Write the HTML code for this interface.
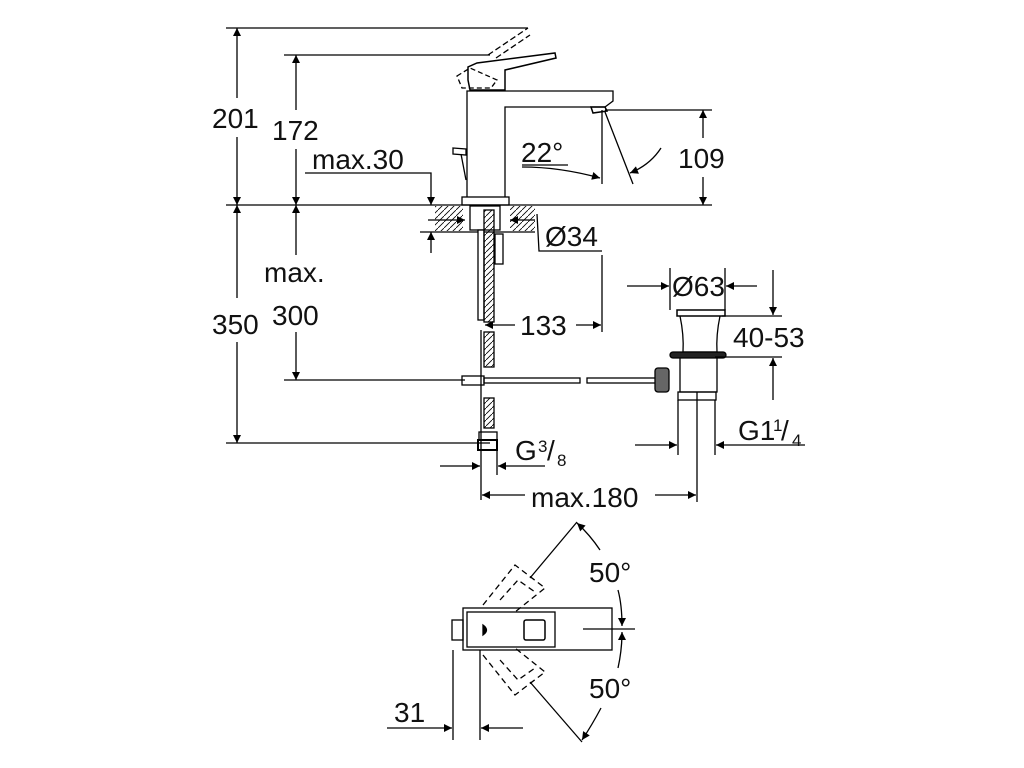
<!DOCTYPE html>
<html><head><meta charset="utf-8"><style>
html,body{margin:0;padding:0;background:#fff;width:1024px;height:768px;overflow:hidden}
svg{display:block}
text{font-family:"Liberation Sans",Arial,sans-serif;font-size:28px;fill:#111}
</style></head><body>
<svg width="1024" height="768" viewBox="0 0 1024 768" xmlns="http://www.w3.org/2000/svg">
<defs>
<marker id="a" viewBox="0 0 10 10" refX="10" refY="5" markerWidth="17" markerHeight="8" markerUnits="userSpaceOnUse" orient="auto-start-reverse"><path d="M0,0L10,5L0,10z" fill="#000"/></marker>
<pattern id="h" width="6" height="6" patternUnits="userSpaceOnUse"><path d="M0,6L6,0" stroke="#000" stroke-width="0.8"/></pattern>
</defs>
<g stroke="#000" stroke-width="1.3" fill="none">
<line x1="226" y1="28" x2="528" y2="28"/>
<line x1="284" y1="55" x2="490" y2="55"/>
<line x1="226" y1="205" x2="712" y2="205"/>
<line x1="226" y1="443" x2="490" y2="443"/>
<line x1="284" y1="380" x2="465" y2="380"/>
<line x1="237" y1="28" x2="237" y2="98" marker-start="url(#a)"/>
<line x1="237" y1="137" x2="237" y2="205" marker-end="url(#a)"/>
<line x1="237" y1="205" x2="237" y2="298" marker-start="url(#a)"/>
<line x1="237" y1="342" x2="237" y2="443" marker-end="url(#a)"/>
<line x1="296" y1="55" x2="296" y2="110" marker-start="url(#a)"/>
<line x1="296" y1="149" x2="296" y2="205" marker-end="url(#a)"/>
<line x1="296" y1="205" x2="296" y2="255" marker-start="url(#a)"/>
<line x1="296" y1="332" x2="296" y2="380" marker-end="url(#a)"/>
<polyline points="305,173 431,173 431,205" marker-end="url(#a)"/>
<line x1="431" y1="253" x2="431" y2="232" marker-end="url(#a)"/>
<line x1="420" y1="232" x2="535" y2="232"/>
<line x1="428" y1="220" x2="465" y2="220" marker-end="url(#a)"/>
<rect x="435" y="206" width="28" height="25" fill="url(#h)" stroke="none"/>
<rect x="510" y="206" width="25" height="25" fill="url(#h)" stroke="none"/>
<line x1="535" y1="220" x2="510" y2="220" marker-end="url(#a)"/>
<polyline points="537,214 539,251 602,251"/>
<path d="M467,197 L467,91 L613,91 L613,101 L605,107 L505,107 Q505,107 505,112 L505,197"/>
<rect x="462" y="197" width="47" height="8"/>
<path d="M591,107 L605,107 L607,111 L593,113 z" stroke-width="1.5"/>
<path d="M453,148 L466,149 L466,155 L453,154 z"/>
<path d="M461,154 L466,180"/>
<path d="M468,80 L468,67 L477,63 L555,53 L556,58 L505,70 L505,90 L470,90 z" stroke-width="1.5"/>
<path d="M457,76 L470,68 L497,80 L491,88 L462,88 z" stroke-dasharray="5,3"/>
<path d="M488,55 L528,28 M496,58 L530,35" stroke-dasharray="6,3"/>
<line x1="605" y1="110" x2="712" y2="110"/>
<line x1="703" y1="110" x2="703" y2="138" marker-start="url(#a)"/>
<line x1="703" y1="177" x2="703" y2="205" marker-end="url(#a)"/>
<line x1="602" y1="110" x2="602" y2="184"/>
<line x1="605" y1="112" x2="633" y2="184"/>
<path d="M522,167 Q560,167 600,178" marker-end="url(#a)"/>
<line x1="522" y1="165" x2="568" y2="165"/>
<path d="M661,148 Q650,165 630,173" marker-end="url(#a)"/>
<rect x="470" y="206" width="30" height="24" fill="#fff"/>
<rect x="478" y="230" width="6" height="90" fill="#fff"/>
<rect x="484" y="210" width="10" height="112" fill="url(#h)"/>
<rect x="495" y="234" width="8" height="30"/>
<rect x="484" y="332" width="10" height="35" fill="url(#h)"/>
<line x1="481" y1="330" x2="481" y2="500"/>
<rect x="484" y="398" width="10" height="30" fill="url(#h)"/>
<rect x="479" y="432" width="18" height="8"/>
<rect x="478" y="440" width="19" height="10" stroke-width="2"/>
<line x1="497" y1="450" x2="497" y2="475"/>
<rect x="462" y="376" width="22" height="9"/>
<rect x="484" y="378" width="96" height="5"/>
<rect x="587" y="378" width="70" height="5"/>
<line x1="602" y1="255" x2="602" y2="332"/>
<line x1="515" y1="325" x2="485" y2="325" marker-end="url(#a)"/>
<line x1="576" y1="325" x2="601" y2="325" marker-end="url(#a)"/>
<rect x="677" y="310" width="48" height="6" stroke-width="1.5"/>
<path d="M680,316 Q684,335 683,352 L717,352 Q716,335 720,316"/>
<rect x="670" y="352" width="56" height="6" rx="3" fill="#222"/>
<path d="M680,358 L680,392 L717,392 L717,358"/>
<rect x="655" y="368" width="14" height="24" rx="3" fill="#666"/>
<rect x="678" y="392" width="38" height="8"/>
<line x1="678" y1="400" x2="678" y2="455"/>
<line x1="715" y1="400" x2="715" y2="455"/>
<line x1="697" y1="392" x2="697" y2="502"/>
<line x1="670" y1="268" x2="670" y2="310"/>
<line x1="725" y1="268" x2="725" y2="310"/>
<line x1="627" y1="286" x2="669" y2="286" marker-end="url(#a)"/>
<line x1="757" y1="286" x2="726" y2="286" marker-end="url(#a)"/>
<line x1="722" y1="316" x2="782" y2="316"/>
<line x1="715" y1="357" x2="782" y2="357"/>
<line x1="773" y1="270" x2="773" y2="315" marker-end="url(#a)"/>
<line x1="773" y1="400" x2="773" y2="358" marker-end="url(#a)"/>
<line x1="635" y1="445" x2="677" y2="445" marker-end="url(#a)"/>
<line x1="805" y1="445" x2="716" y2="445" marker-end="url(#a)"/>
<line x1="440" y1="466" x2="480" y2="466" marker-end="url(#a)"/>
<line x1="545" y1="466" x2="498" y2="466" marker-end="url(#a)"/>
<line x1="525" y1="495" x2="482" y2="495" marker-end="url(#a)"/>
<line x1="655" y1="495" x2="696" y2="495" marker-end="url(#a)"/>
<rect x="463" y="608" width="149" height="42"/>
<rect x="467" y="612" width="88" height="35" fill="#fff"/>
<rect x="452" y="620" width="11" height="20"/>
<rect x="524" y="620" width="21" height="20" rx="2" stroke-width="1.5"/>
<path d="M483,625 Q490,630 483,635 z" fill="#000"/>
<line x1="583" y1="629" x2="635" y2="629"/>
<g stroke-dasharray="6,4">
<path d="M483,605 L515,565 L545,588 L515,612"/>
<path d="M500,600 L518,580 L535,592"/>
<path d="M483,655 L515,695 L545,672 L515,648"/>
<path d="M500,660 L518,680 L535,668"/>
</g>
<line x1="530" y1="578" x2="577" y2="522"/>
<line x1="530" y1="682" x2="582" y2="742"/>
<path d="M600,550 Q590,535 577,523" marker-end="url(#a)"/>
<path d="M618,590 Q622,605 622,626" marker-end="url(#a)"/>
<path d="M618,668 Q622,650 622,632" marker-end="url(#a)"/>
<path d="M601,708 Q592,725 582,740" marker-end="url(#a)"/>
<line x1="453" y1="650" x2="453" y2="740"/>
<line x1="480" y1="650" x2="480" y2="740"/>
<line x1="387" y1="728" x2="452" y2="728" marker-end="url(#a)"/>
<line x1="523" y1="728" x2="481" y2="728" marker-end="url(#a)"/>
</g>
<g>
<text x="212" y="128">201</text>
<text x="272" y="140">172</text>
<text x="312" y="169">max.30</text>
<text x="264" y="282">max.</text>
<text x="272" y="325">300</text>
<text x="212" y="334">350</text>
<text x="521" y="162">22°</text>
<text x="678" y="168">109</text>
<text x="545" y="246">Ø34</text>
<text x="520" y="335">133</text>
<text x="672" y="296">Ø63</text>
<text x="733" y="347">40-53</text>
<text x="738" y="440">G1</text><text x="773" y="431" style="font-size:17px">1</text><text x="781" y="440">/</text><text x="792" y="446" style="font-size:17px">4</text>
<text x="515" y="460">G</text><text x="538" y="452" style="font-size:17px">3</text><text x="547" y="460">/</text><text x="557" y="466" style="font-size:17px">8</text>
<text x="531" y="507">max.180</text>
<text x="589" y="582">50°</text>
<text x="589" y="698">50°</text>
<text x="394" y="722">31</text>
</g>
</svg>
</body></html>
